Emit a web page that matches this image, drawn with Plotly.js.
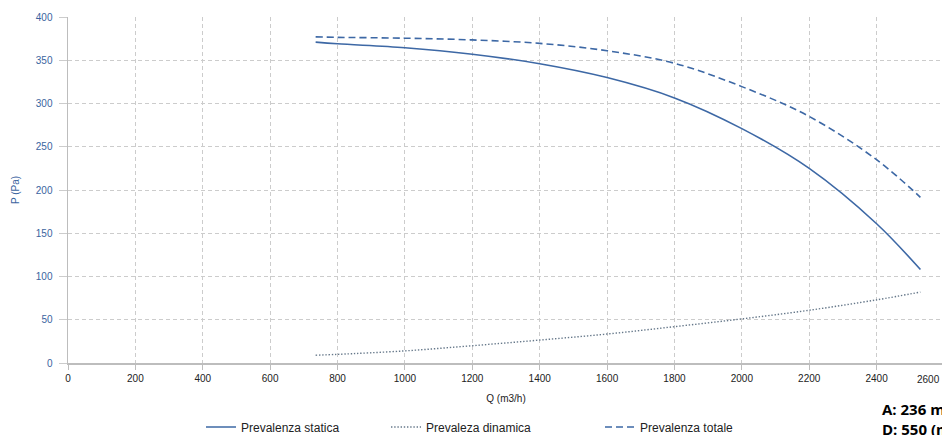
<!DOCTYPE html>
<html>
<head>
<meta charset="utf-8">
<script src="https://cdn.plot.ly/plotly-3.0.1.min.js"></script>
<style>
html,body{margin:0;padding:0;overflow:hidden;background:#fff;width:942px;height:435px;}
#chart{width:1000px;height:435px;}
</style>
</head>
<body>
<div id="chart"></div>
<script>
// Flow rate Q (m3/h)
var portata = [735, 800, 1000, 1200, 1400, 1600, 1800, 2000, 2200, 2400, 2530];
// Pressures (Pa)
var prevStatica = [371, 369, 364.5, 357, 346, 330, 306.5, 271, 225, 161, 108];
var prevDinamica = [9, 10, 14, 20, 26.5, 33.5, 42, 51, 61, 73, 82];
var prevTotale = [377, 376.5, 375.5, 373.5, 369.5, 361, 346.5, 319.5, 285, 235, 191.5];

var nomiSerie = ["Prevalenza statica", "Prevaleza dinamica", "Prevalenza totale"];
var xTicks = [0, 200, 400, 600, 800, 1000, 1200, 1400, 1600, 1800, 2000, 2200, 2400, 2600];
var yTicks = [0, 50, 100, 150, 200, 250, 300, 350, 400];
var noteTesti = ["A: 236 mm", "D: 550 (mm)"];

var blu = "#3d68a5";
var traces = [
  {x: portata, y: prevStatica, name: nomiSerie[0], mode: "lines", legend: "legend",
   line: {color: blu, width: 1.6, shape: "spline"}},
  {x: portata, y: prevDinamica, name: nomiSerie[1], mode: "lines", legend: "legend2",
   line: {color: "#66788a", width: 1.4, dash: "1.4px,1.8px", shape: "spline"}},
  {x: portata, y: prevTotale, name: nomiSerie[2], mode: "lines", legend: "legend3",
   line: {color: blu, width: 1.6, dash: "7px,4px", shape: "spline"}}
];

var gridStyle = {gridcolor: "#cccccc", griddash: "4px,3px", gridwidth: 1};
var legFont = {family: "Liberation Sans, Arial, sans-serif", size: 12, color: "#222"};
function leg(px){
  return {orientation: "h", x: (px - 68) / 876, y: 1 - 427 / 435, yref: "container",
          xanchor: "left", yanchor: "middle",
          font: legFont, bgcolor: "rgba(0,0,0,0)", borderwidth: 0};
}

// last x tick label: shown shifted inward as in the reference
var lastTick = xTicks[xTicks.length - 1];

var layout = {
  width: 1000, height: 435,
  margin: {l: 68, r: 56, t: 17, b: 72},
  paper_bgcolor: "#fff", plot_bgcolor: "#fff",
  font: {family: "Liberation Sans, Arial, sans-serif", size: 10, color: "#222"},
  showlegend: true,
  legend: leg(201),
  legend2: leg(386),
  legend3: leg(600),
  xaxis: Object.assign({
    range: [0, 2600], tickvals: xTicks,
    ticktext: xTicks.map(function(v){ return v === lastTick ? "" : String(v); }),
    showline: true, linecolor: "#bdbdbd", linewidth: 1.5,
    ticks: "outside", ticklen: 5, tickcolor: "#bdbdbd",
    tickfont: {size: 10, color: "#222"}, zeroline: false, automargin: false,
    title: {text: "Q (m3/h)", font: {size: 10, color: "#222"}, standoff: 12}
  }, gridStyle),
  yaxis: Object.assign({
    range: [0, 400], tickvals: yTicks, ticktext: yTicks.map(String),
    showline: true, linecolor: "#bdbdbd", linewidth: 1.5,
    ticks: "outside", ticklen: 8, tickcolor: "#cccccc", ticklabelstandoff: 4,
    tickfont: {size: 10, color: "#3a64a0"}, zeroline: false, automargin: false,
    title: {text: "P (Pa)", font: {size: 10, color: "#3a64a0"}, standoff: 14}
  }, gridStyle),
  annotations: [
    {xref: "paper", yref: "paper", x: (942 - 68) / 876, y: -16 / 346,
     xanchor: "right", yanchor: "middle", showarrow: false, text: String(lastTick),
     font: {size: 10, color: "#222"}},
    {xref: "paper", yref: "paper", x: (880 - 68) / 876, y: (363 - 409) / 346,
     xanchor: "left", yanchor: "middle", showarrow: false, text: "<b>" + noteTesti[0] + "</b>",
     font: {family: "Open Sans, sans-serif", size: 15, color: "#000"}},
    {xref: "paper", yref: "paper", x: (880 - 68) / 876, y: (363 - 429) / 346,
     xanchor: "left", yanchor: "middle", showarrow: false, text: "<b>" + noteTesti[1] + "</b>",
     font: {family: "Open Sans, sans-serif", size: 15, color: "#000"}}
  ]
};

Plotly.newPlot("chart", traces, layout, {displayModeBar: false, staticPlot: true});
</script>
</body>
</html>
